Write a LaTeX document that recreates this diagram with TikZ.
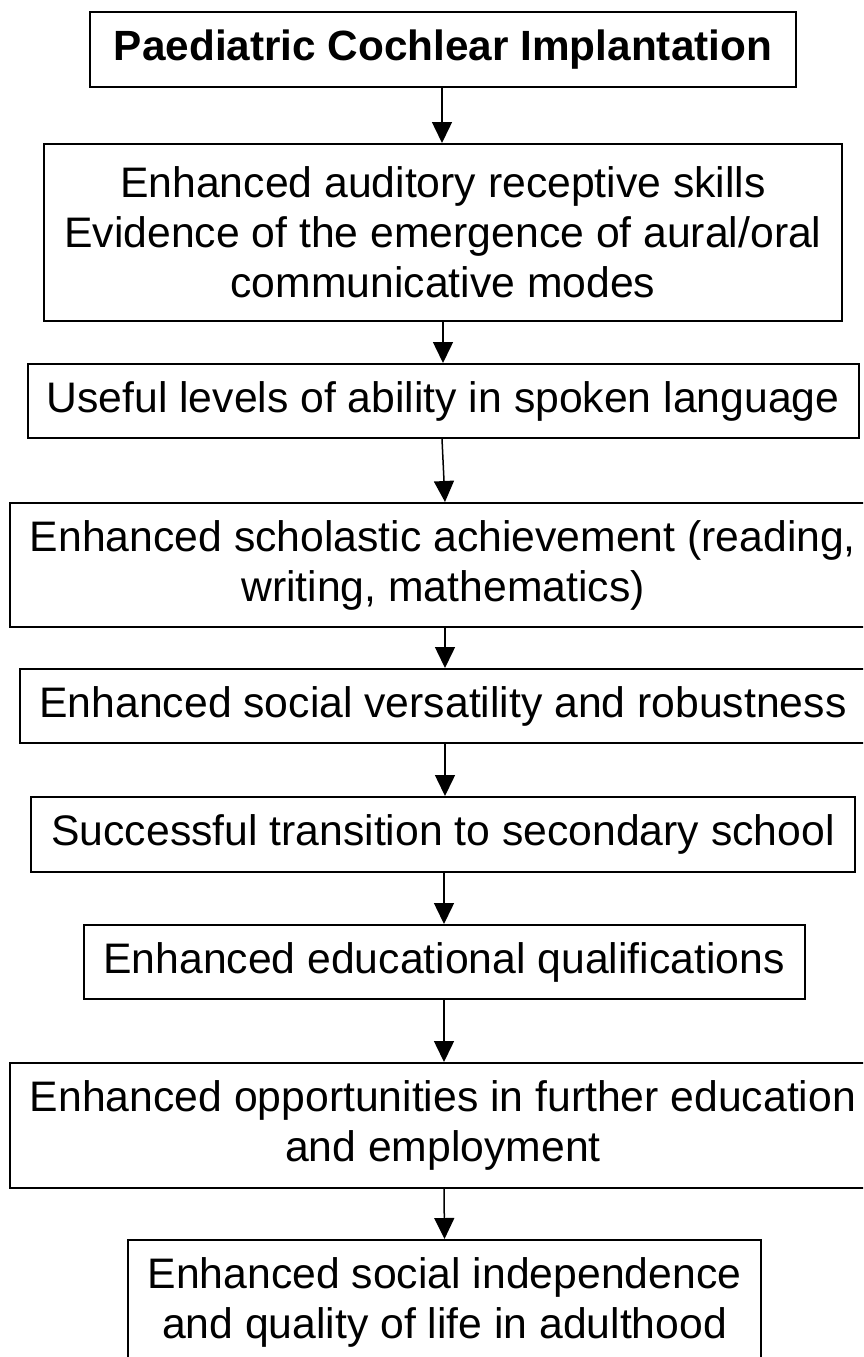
\documentclass[tikz,border=0pt]{standalone}
\usepackage{fontspec}
\setmainfont{Liberation Sans}
\usetikzlibrary{arrows.meta}
\begin{document}
\begin{tikzpicture}[x=1pt,y=-1pt,
  box/.style={draw=black, line width=2pt, rectangle, inner sep=0pt, align=center,
              font=\fontsize{42.7}{50}\selectfont},
  flow/.style={-{Triangle[width=20pt,length=21pt]}, line width=1.5pt}]
% page frame
\fill[white] (0,0) rectangle (863,1357);
\useasboundingbox (0,0) rectangle (863,1357);
\clip (0,0) rectangle (863,1357);

% outcome boxes, top to bottom
\node[box, minimum width=706pt, minimum height=75pt,
      font=\fontsize{42.3}{50}\selectfont\bfseries] (b1) at (443,49.5)
  {Paediatric Cochlear Implantation};
\node[box, minimum width=798pt, minimum height=177pt] (b2) at (443,232.5)
  {Enhanced auditory receptive skills\\Evidence of the emergence of aural/oral\\communicative modes};
\node[box, minimum width=831pt, minimum height=74pt] (b3) at (443,401)
  {Useful levels of ability in spoken language};
\node[box, minimum width=867pt, minimum height=124pt] (b4) at (443,565)
  {Enhanced scholastic achievement (reading,\\writing, mathematics)};
\node[box, minimum width=846pt, minimum height=74pt] (b5) at (443,706)
  {Enhanced social versatility and robustness};
\node[box, minimum width=824pt, minimum height=75pt] (b6) at (443,834.5)
  {Successful transition to secondary school};
\node[box, minimum width=721pt, minimum height=74pt] (b7) at (444,962)
  {Enhanced educational qualifications};
\node[box, minimum width=867pt, minimum height=125pt] (b8) at (443,1125.5)
  {Enhanced opportunities in further education\\and employment};
\node[box, minimum width=633pt, minimum height=124pt] (b9) at (444.5,1302)
  {Enhanced social independence\\and quality of life in adulthood};

% connectors
\draw[flow] ([xshift=-1pt]b1.south) -- ([xshift=-1pt]b2.north);
\draw[flow] (b2.south) -- (b3.north);
\draw[flow] ([xshift=-1pt]b3.south) -- ([xshift=2pt]b4.north);
\draw[flow] ([xshift=2pt]b4.south) -- ([xshift=2pt]b5.north);
\draw[flow] ([xshift=2pt]b5.south) -- ([xshift=2pt]b6.north);
\draw[flow] ([xshift=1pt]b6.south) -- (b7.north);
\draw[flow] (b7.south) -- ([xshift=1pt]b8.north);
\draw[flow] ([xshift=1pt]b8.south) -- (b9.north);
\end{tikzpicture}
\end{document}
